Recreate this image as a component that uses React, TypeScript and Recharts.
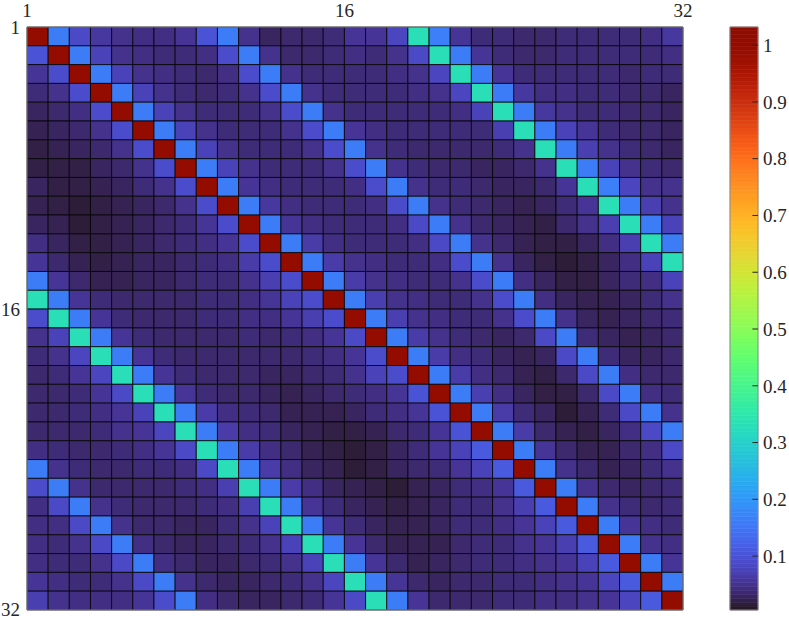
import React from "react";
import { ScatterChart, Scatter, XAxis, YAxis, ReferenceArea, ReferenceLine } from "recharts";

// heatmap rows (31 x 31 visible cells)
const R1 = [1, 0.16, 0.085, 0.06, 0.05, 0.045, 0.045, 0.055, 0.1, 0.16, 0.05, 0.03, 0.035, 0.035, 0.04, 0.055, 0.055, 0.08, 0.33, 0.165, 0.055, 0.04, 0.04, 0.035, 0.035, 0.04, 0.04, 0.04, 0.04, 0.045, 0.06];
const R2 = [0.1, 1, 0.16, 0.075, 0.05, 0.045, 0.04, 0.04, 0.045, 0.09, 0.16, 0.05, 0.035, 0.035, 0.04, 0.045, 0.04, 0.05, 0.085, 0.33, 0.16, 0.055, 0.04, 0.035, 0.035, 0.04, 0.04, 0.04, 0.04, 0.04, 0.045];
const R3 = [0.055, 0.09, 1, 0.16, 0.075, 0.05, 0.045, 0.04, 0.035, 0.045, 0.09, 0.16, 0.05, 0.04, 0.04, 0.04, 0.04, 0.045, 0.05, 0.08, 0.33, 0.16, 0.055, 0.04, 0.04, 0.04, 0.04, 0.04, 0.035, 0.04, 0.04];
const R4 = [0.04, 0.05, 0.09, 1, 0.16, 0.075, 0.05, 0.04, 0.035, 0.04, 0.05, 0.09, 0.16, 0.05, 0.04, 0.04, 0.04, 0.04, 0.045, 0.05, 0.08, 0.33, 0.16, 0.06, 0.045, 0.045, 0.04, 0.04, 0.035, 0.035, 0.03];
const R5 = [0.03, 0.035, 0.045, 0.09, 1, 0.16, 0.075, 0.05, 0.04, 0.04, 0.04, 0.05, 0.09, 0.16, 0.05, 0.04, 0.04, 0.04, 0.04, 0.04, 0.045, 0.075, 0.33, 0.16, 0.06, 0.05, 0.04, 0.04, 0.035, 0.035, 0.03];
const R6 = [0.025, 0.03, 0.035, 0.05, 0.09, 1, 0.16, 0.075, 0.05, 0.04, 0.04, 0.04, 0.05, 0.09, 0.16, 0.055, 0.045, 0.04, 0.04, 0.04, 0.04, 0.04, 0.07, 0.33, 0.16, 0.075, 0.055, 0.04, 0.035, 0.035, 0.03];
const R7 = [0.02, 0.025, 0.03, 0.035, 0.05, 0.09, 1, 0.16, 0.075, 0.05, 0.04, 0.04, 0.04, 0.05, 0.09, 0.16, 0.05, 0.04, 0.035, 0.035, 0.035, 0.035, 0.04, 0.05, 0.33, 0.16, 0.07, 0.05, 0.04, 0.035, 0.03];
const R8 = [0.02, 0.02, 0.02, 0.03, 0.035, 0.05, 0.09, 1, 0.16, 0.075, 0.05, 0.04, 0.04, 0.04, 0.05, 0.09, 0.16, 0.05, 0.04, 0.035, 0.035, 0.03, 0.03, 0.035, 0.05, 0.33, 0.16, 0.075, 0.05, 0.04, 0.035];
const R9 = [0.03, 0.02, 0.02, 0.025, 0.03, 0.04, 0.05, 0.09, 1, 0.16, 0.055, 0.045, 0.04, 0.04, 0.04, 0.045, 0.09, 0.16, 0.05, 0.04, 0.04, 0.035, 0.03, 0.03, 0.035, 0.055, 0.33, 0.165, 0.08, 0.05, 0.05];
const R10 = [0.025, 0.02, 0.015, 0.02, 0.025, 0.03, 0.035, 0.05, 0.09, 1, 0.16, 0.06, 0.045, 0.04, 0.04, 0.04, 0.045, 0.09, 0.16, 0.05, 0.04, 0.035, 0.03, 0.025, 0.03, 0.04, 0.055, 0.33, 0.16, 0.07, 0.05];
const R11 = [0.03, 0.025, 0.015, 0.02, 0.025, 0.03, 0.035, 0.04, 0.055, 0.09, 1, 0.16, 0.055, 0.045, 0.04, 0.04, 0.04, 0.045, 0.085, 0.16, 0.05, 0.035, 0.03, 0.025, 0.02, 0.035, 0.05, 0.07, 0.33, 0.16, 0.075];
const R12 = [0.045, 0.03, 0.02, 0.02, 0.025, 0.03, 0.035, 0.04, 0.045, 0.055, 0.09, 1, 0.16, 0.065, 0.045, 0.04, 0.04, 0.04, 0.045, 0.085, 0.16, 0.05, 0.035, 0.025, 0.02, 0.02, 0.03, 0.045, 0.07, 0.33, 0.16];
const R13 = [0.055, 0.035, 0.025, 0.02, 0.025, 0.03, 0.03, 0.035, 0.04, 0.045, 0.065, 0.09, 1, 0.16, 0.065, 0.05, 0.045, 0.04, 0.04, 0.045, 0.09, 0.16, 0.05, 0.03, 0.02, 0.015, 0.02, 0.03, 0.045, 0.075, 0.33];
const R14 = [0.16, 0.055, 0.035, 0.025, 0.025, 0.03, 0.03, 0.035, 0.04, 0.04, 0.05, 0.07, 0.09, 1, 0.16, 0.065, 0.05, 0.045, 0.04, 0.04, 0.05, 0.09, 0.16, 0.045, 0.03, 0.02, 0.02, 0.03, 0.04, 0.045, 0.075];
const R15 = [0.33, 0.16, 0.055, 0.04, 0.035, 0.035, 0.035, 0.035, 0.04, 0.04, 0.045, 0.055, 0.075, 0.09, 1, 0.16, 0.07, 0.05, 0.045, 0.04, 0.04, 0.05, 0.09, 0.16, 0.045, 0.03, 0.025, 0.025, 0.03, 0.04, 0.05];
const R16 = [0.09, 0.33, 0.16, 0.055, 0.04, 0.035, 0.035, 0.035, 0.04, 0.04, 0.045, 0.045, 0.055, 0.07, 0.09, 1, 0.16, 0.07, 0.05, 0.045, 0.04, 0.04, 0.05, 0.09, 0.16, 0.05, 0.03, 0.025, 0.03, 0.035, 0.04];
const R17 = [0.05, 0.075, 0.33, 0.16, 0.055, 0.04, 0.035, 0.035, 0.035, 0.035, 0.04, 0.035, 0.04, 0.045, 0.055, 0.085, 1, 0.16, 0.065, 0.05, 0.04, 0.035, 0.03, 0.035, 0.085, 0.16, 0.04, 0.03, 0.025, 0.03, 0.035];
const R18 = [0.04, 0.05, 0.08, 0.33, 0.16, 0.055, 0.04, 0.035, 0.035, 0.035, 0.035, 0.035, 0.035, 0.04, 0.045, 0.055, 0.09, 1, 0.16, 0.065, 0.045, 0.04, 0.03, 0.025, 0.03, 0.085, 0.16, 0.04, 0.03, 0.03, 0.035];
const R19 = [0.035, 0.04, 0.055, 0.08, 0.33, 0.16, 0.055, 0.04, 0.035, 0.035, 0.035, 0.03, 0.03, 0.035, 0.04, 0.05, 0.075, 0.09, 1, 0.16, 0.065, 0.045, 0.035, 0.025, 0.02, 0.035, 0.085, 0.16, 0.045, 0.035, 0.035];
const R20 = [0.035, 0.035, 0.04, 0.055, 0.085, 0.33, 0.16, 0.055, 0.04, 0.035, 0.035, 0.03, 0.025, 0.03, 0.035, 0.04, 0.045, 0.055, 0.1, 1, 0.16, 0.07, 0.045, 0.03, 0.02, 0.02, 0.035, 0.085, 0.16, 0.045, 0.04];
const R21 = [0.035, 0.035, 0.04, 0.045, 0.055, 0.075, 0.33, 0.16, 0.065, 0.045, 0.04, 0.035, 0.025, 0.025, 0.025, 0.03, 0.04, 0.045, 0.055, 0.1, 1, 0.16, 0.065, 0.04, 0.03, 0.015, 0.025, 0.04, 0.085, 0.16, 0.05];
const R22 = [0.035, 0.035, 0.035, 0.04, 0.05, 0.055, 0.08, 0.33, 0.16, 0.065, 0.045, 0.04, 0.03, 0.025, 0.02, 0.02, 0.025, 0.035, 0.04, 0.055, 0.1, 1, 0.16, 0.065, 0.035, 0.025, 0.02, 0.03, 0.045, 0.085, 0.16];
const R23 = [0.045, 0.04, 0.035, 0.035, 0.04, 0.045, 0.055, 0.085, 0.33, 0.16, 0.065, 0.045, 0.035, 0.025, 0.02, 0.015, 0.02, 0.03, 0.04, 0.055, 0.075, 0.11, 1, 0.16, 0.055, 0.035, 0.025, 0.025, 0.035, 0.045, 0.085];
const R24 = [0.16, 0.05, 0.04, 0.035, 0.035, 0.04, 0.04, 0.045, 0.085, 0.33, 0.16, 0.065, 0.045, 0.03, 0.025, 0.015, 0.02, 0.03, 0.035, 0.04, 0.055, 0.075, 0.11, 1, 0.16, 0.05, 0.035, 0.025, 0.03, 0.04, 0.05];
const R25 = [0.09, 0.16, 0.05, 0.035, 0.035, 0.035, 0.035, 0.04, 0.045, 0.07, 0.33, 0.16, 0.065, 0.045, 0.03, 0.025, 0.02, 0.015, 0.025, 0.03, 0.04, 0.045, 0.055, 0.11, 1, 0.16, 0.05, 0.035, 0.03, 0.035, 0.04];
const R26 = [0.045, 0.085, 0.16, 0.05, 0.04, 0.035, 0.035, 0.035, 0.04, 0.045, 0.07, 0.33, 0.16, 0.055, 0.04, 0.03, 0.025, 0.02, 0.025, 0.03, 0.04, 0.04, 0.05, 0.07, 0.11, 1, 0.16, 0.05, 0.04, 0.035, 0.04];
const R27 = [0.045, 0.045, 0.085, 0.16, 0.05, 0.035, 0.035, 0.03, 0.03, 0.04, 0.05, 0.075, 0.33, 0.16, 0.055, 0.04, 0.03, 0.025, 0.025, 0.03, 0.04, 0.04, 0.045, 0.055, 0.075, 0.11, 1, 0.16, 0.055, 0.045, 0.04];
const R28 = [0.045, 0.04, 0.05, 0.085, 0.16, 0.045, 0.035, 0.03, 0.03, 0.035, 0.04, 0.05, 0.075, 0.33, 0.16, 0.055, 0.035, 0.025, 0.025, 0.025, 0.035, 0.04, 0.04, 0.05, 0.055, 0.07, 0.11, 1, 0.16, 0.05, 0.045];
const R29 = [0.045, 0.04, 0.04, 0.05, 0.085, 0.16, 0.045, 0.035, 0.03, 0.03, 0.035, 0.04, 0.05, 0.075, 0.33, 0.16, 0.055, 0.035, 0.025, 0.03, 0.035, 0.04, 0.04, 0.045, 0.05, 0.055, 0.075, 0.11, 1, 0.16, 0.055];
const R30 = [0.055, 0.045, 0.04, 0.04, 0.05, 0.085, 0.16, 0.05, 0.035, 0.03, 0.03, 0.035, 0.04, 0.05, 0.08, 0.33, 0.16, 0.055, 0.035, 0.03, 0.035, 0.035, 0.04, 0.04, 0.045, 0.05, 0.055, 0.08, 0.11, 1, 0.16];
const R31 = [0.07, 0.05, 0.045, 0.045, 0.045, 0.055, 0.09, 0.16, 0.045, 0.035, 0.03, 0.03, 0.035, 0.04, 0.055, 0.085, 0.33, 0.16, 0.055, 0.035, 0.035, 0.035, 0.04, 0.04, 0.045, 0.045, 0.05, 0.055, 0.08, 0.11, 1];

const rows = [R1, R2, R3, R4, R5, R6, R7, R8, R9, R10, R11, R12, R13, R14, R15, R16, R17, R18, R19, R20, R21, R22, R23, R24, R25, R26, R27, R28, R29, R30, R31];

const axisTicks = [1, 16, 32];
const barTicks = [0.1, 0.2, 0.3, 0.4, 0.5, 0.6, 0.7, 0.8, 0.9, 1];
const CMIN = 0.005;
const CMAX = 1.032;

const FONT = '"Liberation Serif", "Times New Roman", serif';
const tickStyle = { fontSize: 19, fill: "#262626", fontFamily: FONT };

// turbo colormap (polynomial approximation)
function turbo(v: number) {
  const t = Math.max(0, Math.min(1, (v - CMIN) / (CMAX - CMIN)));
  const r = 0.13572138 + t * (4.6153926 + t * (-42.66032258 + t * (132.13108234 + t * (-152.94239396 + t * 59.28637943))));
  const g = 0.09140261 + t * (2.19418839 + t * (4.84296658 + t * (-14.18503333 + t * (4.27729857 + t * 2.82956604))));
  const b = 0.1066733 + t * (12.64194608 + t * (-60.58204836 + t * (110.36276771 + t * (-89.90310912 + t * 27.34824973))));
  const c = (x: number) => Math.round(Math.max(0, Math.min(1, x)) * 255);
  return `rgb(${c(r)},${c(g)},${c(b)})`;
}

// cell centres give the axes some data to work with
const cells = rows.flatMap((row, i) => row.map((v, j) => ({ x: j + 1.5, y: i + 1.5, v })));
const barPoints = barTicks.map((t) => ({ x: 0.5, y: t }));

const SLICES = 150;
const barSlices = Array.from({ length: SLICES }, (_, k) => {
  const lo = CMIN + ((CMAX - CMIN) * k) / SLICES;
  const hi = CMIN + ((CMAX - CMIN) * (k + 1)) / SLICES;
  return { lo, hi, color: turbo((lo + hi) / 2) };
});

const Nothing = () => <g />;

export default function App() {
  return (
    <div style={{ position: "absolute", left: 0, top: 0, width: 789, height: 620, background: "#fff" }}>
      <div style={{ position: "absolute", left: 0, top: 0 }}>
        <ScatterChart width={789} height={620} margin={{ top: 0, left: 0, right: 106, bottom: 10 }}>
          <XAxis
            type="number"
            dataKey="x"
            orientation="top"
            domain={[1, 32]}
            ticks={axisTicks}
            allowDataOverflow
            height={27}
            axisLine={false}
            tickLine={false}
            tickSize={6}
            tickMargin={4}
            tick={tickStyle}
          />
          <YAxis
            type="number"
            dataKey="y"
            domain={[1, 32]}
            ticks={axisTicks}
            reversed
            allowDataOverflow
            width={27}
            axisLine={false}
            tickLine={false}
            tickSize={4}
            tickMargin={3}
            tick={tickStyle}
          />
          <Scatter data={cells} shape={<Nothing />} isAnimationActive={false} />
          {rows.map((row, i) =>
            row.map((v, j) => (
              <ReferenceArea
                key={`c-${i}-${j}`}
                x1={j + 1}
                x2={j + 2}
                y1={i + 1}
                y2={i + 2}
                fill={turbo(v)}
                fillOpacity={1}
                stroke="#000"
                strokeWidth={0.8}
              />
            ))
          )}
          <ReferenceArea x1={1} x2={32} y1={1} y2={32} fill="none" fillOpacity={0} stroke="#8c8c8c" strokeWidth={1} />
        </ScatterChart>
      </div>
      <div style={{ position: "absolute", left: 700, top: 0 }}>
        <ScatterChart width={89} height={620} margin={{ top: 27, left: 30, right: 0, bottom: 10 }}>
          <XAxis type="number" dataKey="x" domain={[0, 1]} hide allowDataOverflow />
          <YAxis
            type="number"
            dataKey="y"
            orientation="right"
            domain={[CMIN, CMAX]}
            ticks={barTicks}
            allowDataOverflow
            width={31}
            axisLine={false}
            tickLine={false}
            tickSize={4}
            tickMargin={1}
            tick={tickStyle}
          />
          <Scatter data={barPoints} shape={<Nothing />} isAnimationActive={false} />
          {barSlices.map((s, k) => (
            <ReferenceArea
              key={`s-${k}`}
              x1={0}
              x2={1}
              y1={s.lo}
              y2={s.hi}
              fill={s.color}
              fillOpacity={1}
              stroke={s.color}
              strokeWidth={0.6}
            />
          ))}
          {barTicks.map((t) => (
            <ReferenceLine
              key={`t-${t}`}
              segment={[
                { x: 0.8, y: t },
                { x: 1, y: t },
              ]}
              stroke="#262626"
              strokeWidth={1}
            />
          ))}
          <ReferenceArea x1={0} x2={1} y1={CMIN} y2={CMAX} fill="none" fillOpacity={0} stroke="#8c8c8c" strokeWidth={1} />
        </ScatterChart>
      </div>
    </div>
  );
}
